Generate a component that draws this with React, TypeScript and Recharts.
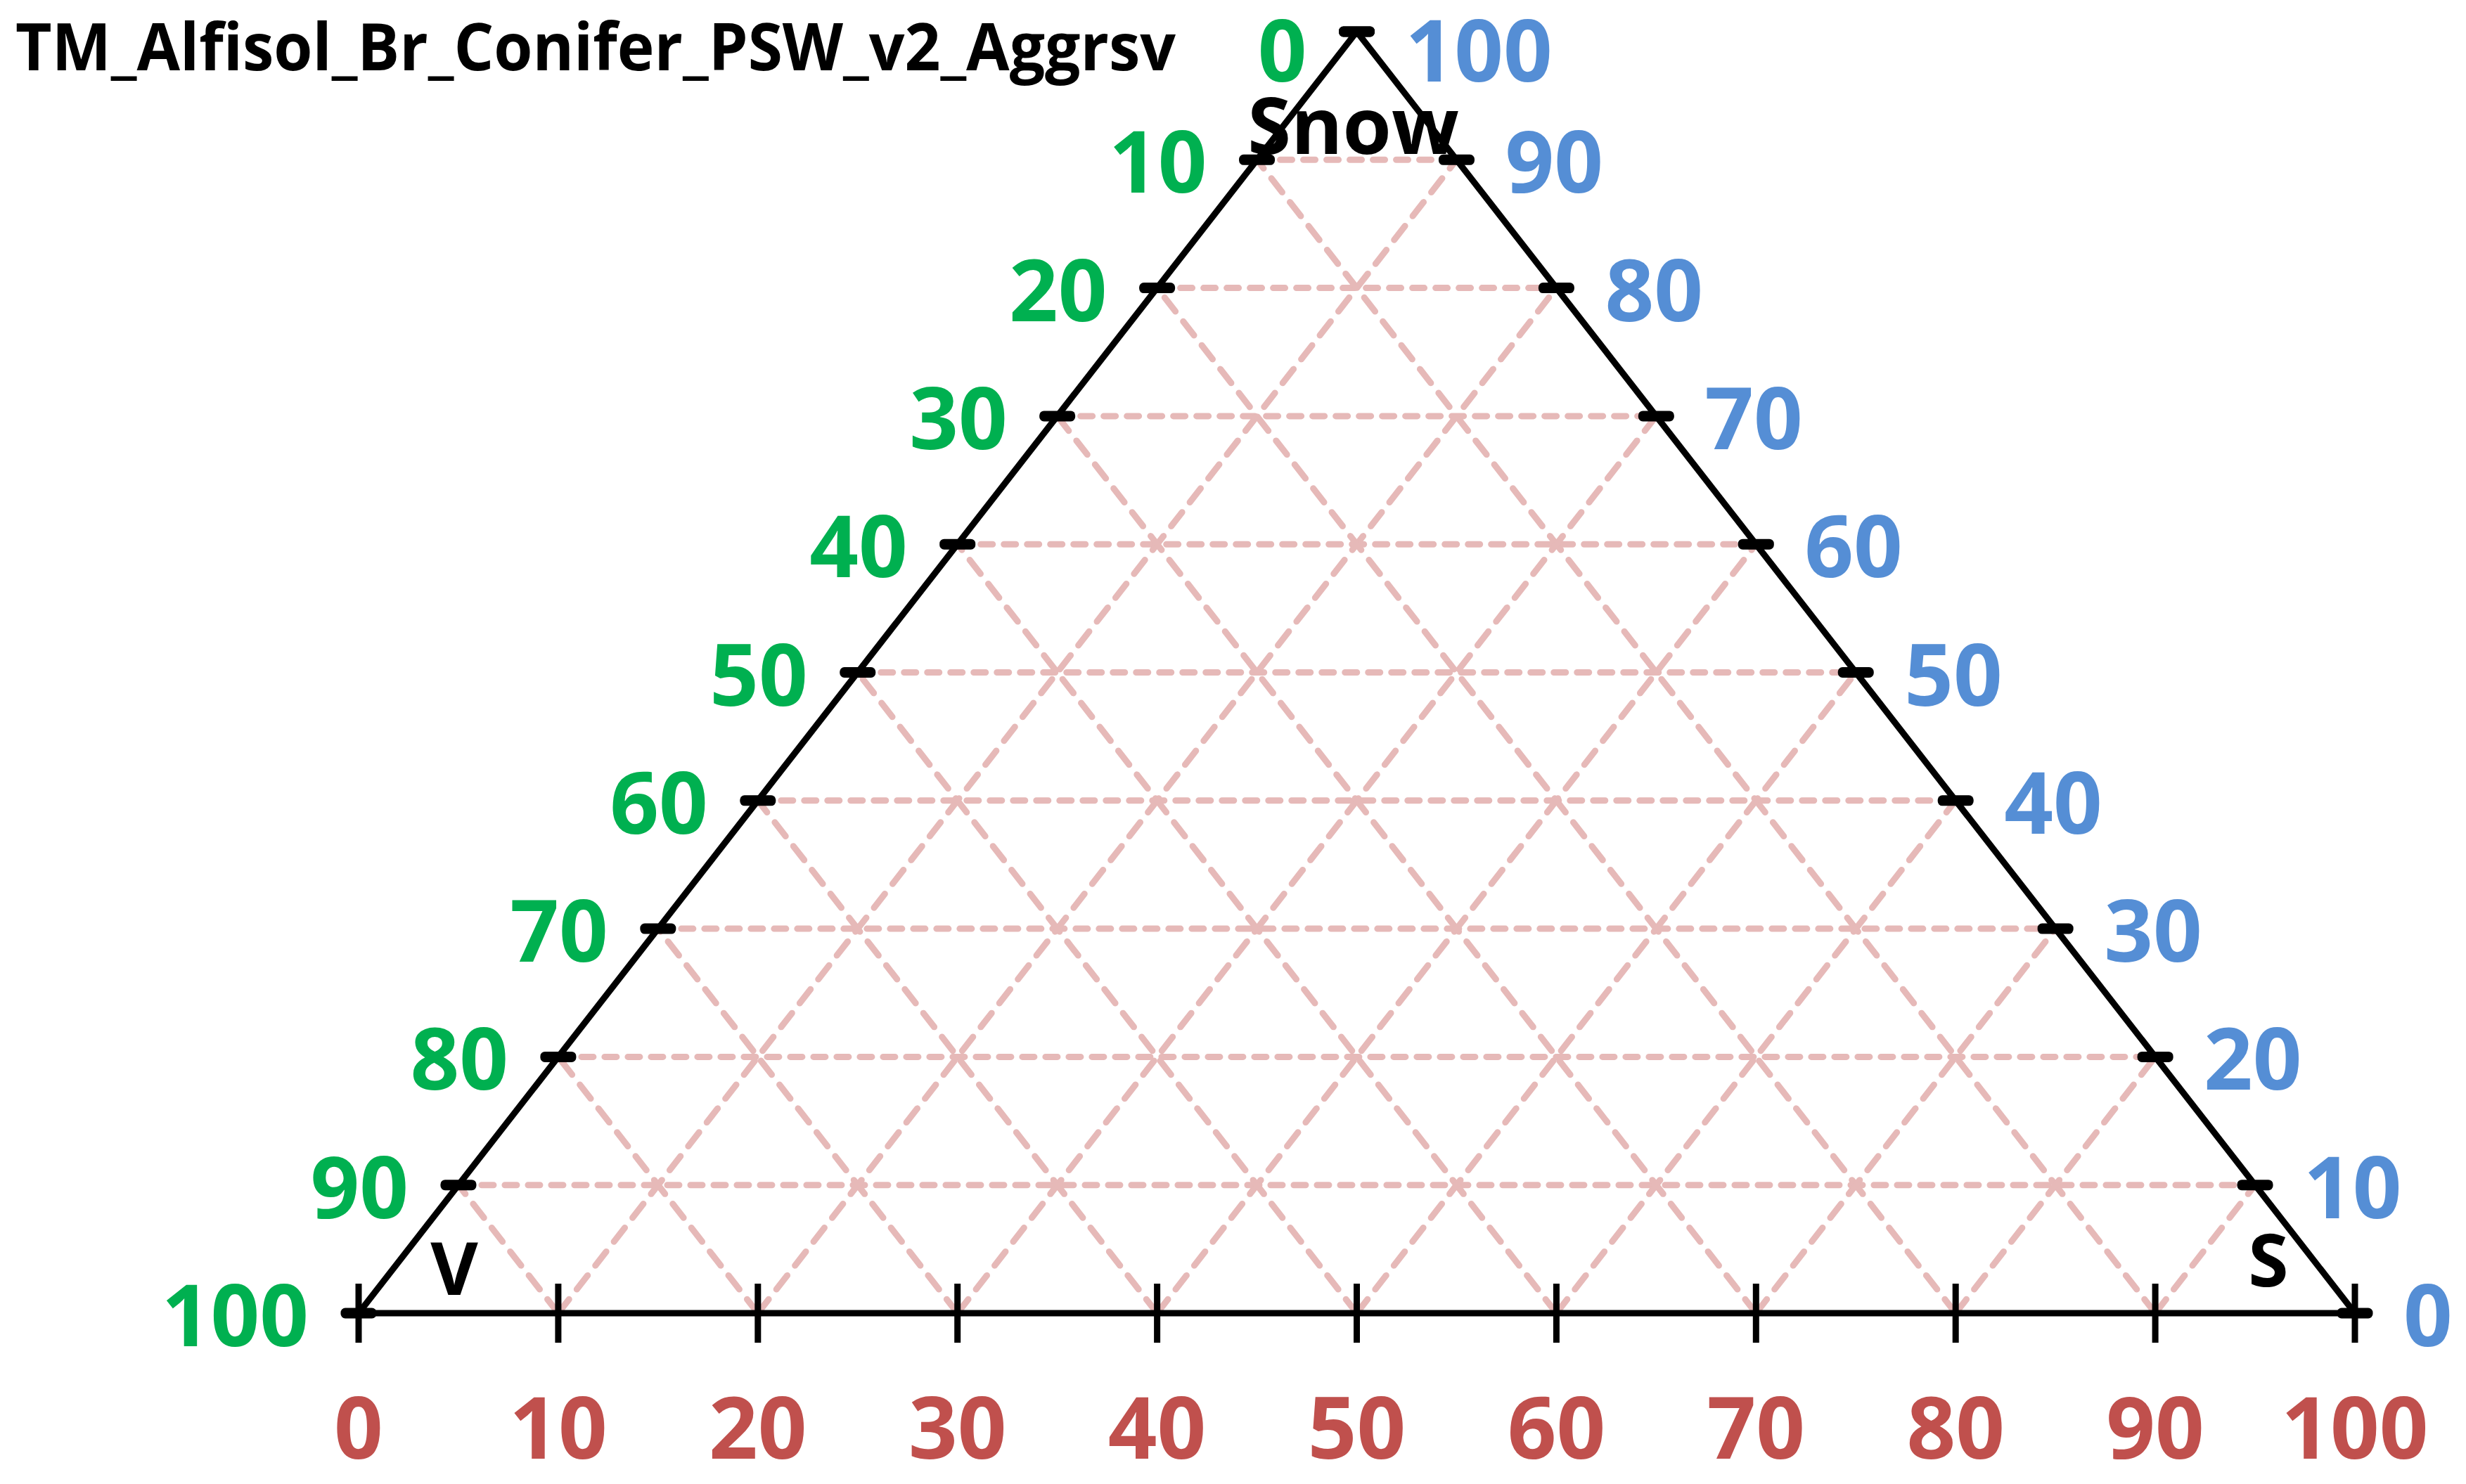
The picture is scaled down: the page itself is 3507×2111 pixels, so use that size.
import React from 'react';
import { ScatterChart, Scatter, XAxis, YAxis } from 'recharts';

const chartTitle = 'TM_Alfisol_Br_Conifer_PSW_v2_Aggrsv';

// tick values on each side of the ternary plot (percent)
const redTicks = [0, 10, 20, 30, 40, 50, 60, 70, 80, 90, 100]; // S, bottom side
const greenTicks = [0, 10, 20, 30, 40, 50, 60, 70, 80, 90, 100]; // V, left side
const blueTicks = [0, 10, 20, 30, 40, 50, 60, 70, 80, 90, 100]; // Snow, right side
const gridLevels = [10, 20, 30, 40, 50, 60, 70, 80, 90];
const cornerNames = ['V', 'S', 'Snow'];

const W = 3507;
const H = 2111;
const FONT = '"Open Sans", "Noto Sans", sans-serif';
const GREEN = '#00B050';
const BLUE = '#558ED5';
const RED = '#C0504D';
const GRID = '#E6B9B8';

// ternary (S, Snow) -> plot units, V = 100 - S - Snow
const toXY = (s: number, snow: number) => ({ x: s + snow / 2, y: snow });

const flatLines: { x: number; y: number }[][] = [];
const slantLines: { x: number; y: number }[][] = [];
gridLevels.forEach((k) => {
  flatLines.push([toXY(0, k), toXY(100 - k, k)]); // constant Snow
  slantLines.push([toXY(k, 0), toXY(k, 100 - k)]); // constant S
  slantLines.push([toXY(100 - k, 0), toXY(0, 100 - k)]); // constant V
});

const sides = [toXY(0, 0), toXY(100, 0), toXY(0, 100), toXY(0, 0)];

const bottomPts = redTicks.map((s) => ({ ...toXY(s, 0), label: String(s) }));
const leftPts = greenTicks.map((v) => ({ ...toXY(0, 100 - v), label: String(v) }));
const rightPts = blueTicks.map((b) => ({ ...toXY(100 - b, b), label: String(b) }));
const cornerPts = [
  { ...toXY(0, 0), label: cornerNames[0] },
  { ...toXY(100, 0), label: cornerNames[1] },
  { ...toXY(0, 100), label: cornerNames[2] },
];

const Empty = () => <g />;

const DashMark = ({ cx, cy }: any) => (
  <rect x={cx - 19} y={cy - 1} width={38} height={2} fill="none" stroke="#000" strokeWidth={13} strokeLinejoin="round" />
);

const BottomTick = ({ cx, cy, payload }: any) => (
  <g>
    <line x1={cx} x2={cx} y1={cy - 42} y2={cy + 42} stroke="#000" strokeWidth={9} />
    <text x={cx} y={cy + 207} textAnchor="middle" fill={RED} fontSize={122} fontWeight={700} fontFamily={FONT}>
      {payload.label}
    </text>
  </g>
);

const LeftTick = (props: any) => (
  <g>
    <DashMark {...props} />
    <text
      x={props.cx - 71}
      y={Math.max(props.cy + 47, 116)}
      textAnchor="end"
      fill={GREEN}
      fontSize={122}
      fontWeight={700}
      fontFamily={FONT}
    >
      {props.payload.label}
    </text>
  </g>
);

const RightTick = (props: any) => (
  <g>
    <DashMark {...props} />
    <text
      x={props.cx + 69}
      y={Math.max(props.cy + 47, 116)}
      textAnchor="start"
      fill={BLUE}
      fontSize={122}
      fontWeight={700}
      fontFamily={FONT}
    >
      {props.payload.label}
    </text>
  </g>
);

const CornerLabel = ({ cx, cy, payload }: any) => {
  // offsets keep names inside the corners
  const pos: Record<string, [number, number, number]> = {
    V: [136, -26, 104],
    S: [-123, -38, 104],
    Snow: [-5, 174, 112],
  };
  const [dx, dy, fs] = pos[payload.label];
  return (
    <text x={cx + dx} y={cy + dy} textAnchor="middle" fill="#000" fontSize={fs} fontWeight={700} fontFamily={FONT}>
      {payload.label}
    </text>
  );
};

export default function App() {
  return (
    <div style={{ position: 'absolute', left: 0, top: 0, width: W, height: H, background: '#fff' }}>
      <ScatterChart width={W} height={H} margin={{ top: 45, right: 158, bottom: 243, left: 510 }}>
        <XAxis type="number" dataKey="x" domain={[0, 100]} hide />
        <YAxis type="number" dataKey="y" domain={[0, 100]} hide />
        {flatLines.map((seg, i) => (
          <Scatter
            key={'h' + i}
            data={seg}
            fill={GRID}
            shape={Empty}
            line={{ stroke: GRID, strokeWidth: 9, strokeDasharray: '17 16', strokeLinecap: 'round' }}
            isAnimationActive={false}
          />
        ))}
        {slantLines.map((seg, i) => (
          <Scatter
            key={'d' + i}
            data={seg}
            fill={GRID}
            shape={Empty}
            line={{ stroke: GRID, strokeWidth: 9, strokeDasharray: '25 18', strokeLinecap: 'round' }}
            isAnimationActive={false}
          />
        ))}
        <Scatter
          data={sides}
          fill="#000"
          shape={Empty}
          line={{ stroke: '#000', strokeWidth: 9, strokeLinejoin: 'miter' }}
          isAnimationActive={false}
        />
        <Scatter data={bottomPts} shape={BottomTick} isAnimationActive={false} />
        <Scatter data={leftPts} shape={LeftTick} isAnimationActive={false} />
        <Scatter data={rightPts} shape={RightTick} isAnimationActive={false} />
        <Scatter data={cornerPts} shape={CornerLabel} isAnimationActive={false} />
      </ScatterChart>
      <svg width={W} height={H} style={{ position: 'absolute', left: 0, top: 0, pointerEvents: 'none' }}>
        <text x={22} y={100} fill="#000" fontSize={94} fontWeight={700} fontFamily={FONT} textLength={1650} lengthAdjust="spacingAndGlyphs">
          {chartTitle}
        </text>
      </svg>
    </div>
  );
}
